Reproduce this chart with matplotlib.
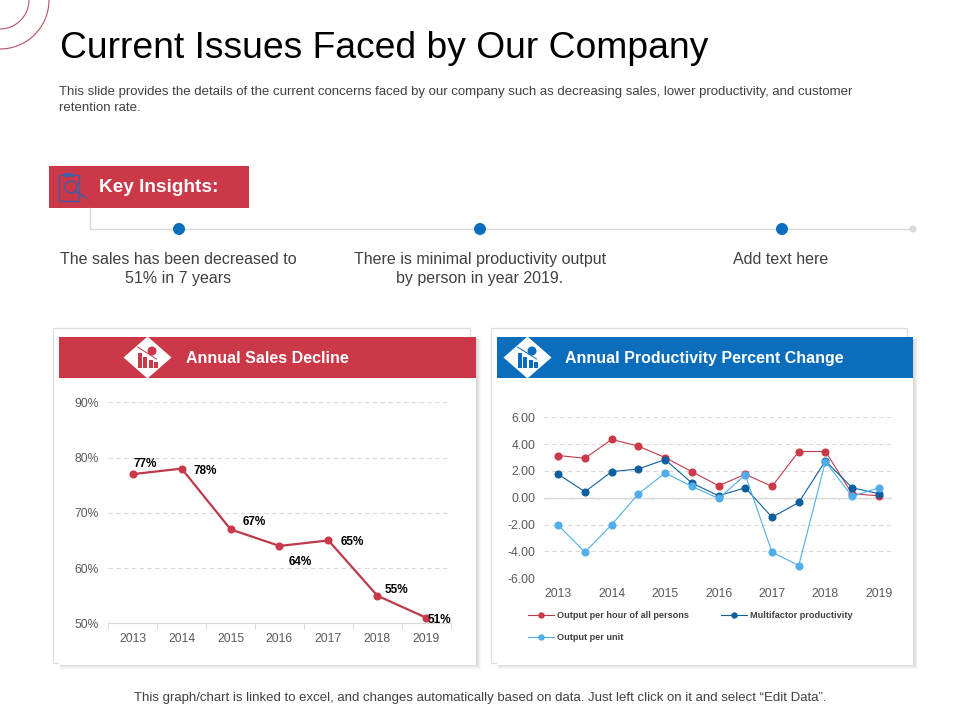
import matplotlib
matplotlib.use("Agg")
from matplotlib import pyplot as plt
from matplotlib.patches import Rectangle, Polygon, Circle, Arc

plt.rcParams["font.family"] = ["Liberation Sans", "DejaVu Sans"]

W, H = 960, 720
RED = "#CB3848"
BLUE = "#0A6EBD"
LINE_RED = "#BE3A4A"
LINE_DARK = "#0F5F9E"
LINE_LIGHT = "#4FADEA"
GREY_TICK = "#595959"
GRID = "#D9D9D9"

sales_years = ["2013", "2014", "2015", "2016", "2017", "2018", "2019"]
sales_values = [77, 78, 67, 64, 65, 55, 51]
sales_ticks = [50, 60, 70, 80, 90]
# label offsets from the point, in pixels
sales_offsets = [(12, 10.5), (24, -2.5), (24, 7.5), (21, -16), (24, -1.5), (19, 6), (13, -2.5)]

prod_years = ["2013", "2014", "2015", "2016", "2017", "2018", "2019"]
prod_hour = [3.15, 2.95, 4.35, 3.85, 3.0, 1.95, 0.9, 1.75, 0.85, 3.45, 3.45, 0.3, 0.15]
prod_multi = [1.75, 0.45, 1.95, 2.15, 2.85, 1.1, 0.15, 0.75, -1.45, -0.35, 2.75, 0.75, 0.3]
prod_unit = [-2.05, -4.05, -2.0, 0.3, 1.85, 0.85, -0.05, 1.7, -4.05, -5.05, 2.7, 0.1, 0.75]
prod_ticks = [-6, -4, -2, 0, 2, 4, 6]

fig = plt.figure(figsize=(W / 100, H / 100), dpi=100, facecolor="white")

# overlay in pixel coordinates for the slide furniture
bg = fig.add_axes([0, 0, 1, 1])
bg.set_xlim(0, W)
bg.set_ylim(H, 0)
bg.axis("off")


def px_axes(left, top, right, bottom):
    return fig.add_axes([left / W, 1 - bottom / H, (right - left) / W, (bottom - top) / H])


def card(x0, x1, color, title, title_x, dia_x):
    bg.add_patch(Rectangle((x0 - 6, 328), x1 - x0, 335, fc="white", ec="#DDDDDD", lw=0.9))
    for i in range(5, 0, -1):
        bg.add_patch(Rectangle((x0 + 1, 339), x1 - x0 + i - 1, 325 + i, fc="#000000", ec="none", alpha=0.03))
    bg.add_patch(Rectangle((x0, 337), x1 - x0, 328, fc="white", ec="none"))
    bg.add_patch(Rectangle((x0, 337), x1 - x0, 41, fc=color, ec="none"))
    bg.add_patch(Polygon([(dia_x, 336.5), (dia_x + 24, 357.5), (dia_x, 378.5), (dia_x - 24, 357.5)], fc="white", ec="none"))
    for dx, h in [(-10, 15), (-4.5, 11), (1, 8), (6.5, 6)]:
        bg.add_patch(Rectangle((dia_x + dx, 368 - h), 4, h, fc=color, ec="none"))
    bg.plot([dia_x - 10, dia_x + 9], [347, 359], color=color, lw=0.7)
    bg.add_patch(Circle((dia_x + 4.5, 351), 4.5, fc=color, ec="none"))
    bg.text(title_x, 358.5, title, color="white", fontsize=11.5, fontweight="bold", va="center", ha="left")


# corner arcs
for r, lw in [(49, 0.8), (29, 0.8)]:
    bg.add_patch(Arc((0, 0), 2 * r, 2 * r, theta1=0, theta2=90, color="#B8505E", lw=lw))

bg.text(60, 48, "Current Issues Faced by Our Company", fontsize=26.8, color="black", va="center", ha="left")
bg.text(59, 92, "This slide provides the details of the current concerns faced by our company such as decreasing sales, lower productivity, and customer",
        fontsize=9.55, color="#404040", va="center", ha="left")
bg.text(59, 108, "retention rate.", fontsize=9.55, color="#404040", va="center", ha="left")

# key insights banner and timeline
bg.plot([90, 90, 913], [208, 229, 229], color=GRID, lw=1)
bg.add_patch(Rectangle((49, 166), 200, 42, fc=RED, ec="none"))
bg.add_patch(Rectangle((59, 175), 20, 26, fc="none", ec="#3F5FA8", lw=1))
bg.add_patch(Rectangle((64, 173), 9, 4, fc="#3F5FA8", ec="none"))
bg.add_patch(Circle((71, 187), 6, fc="none", ec="#3F5FA8", lw=1))
bg.plot([75, 86], [191, 198], color="#3F5FA8", lw=1.2)
bg.text(99, 187.5, "Key Insights:", color="white", fontsize=13.7, fontweight="bold", va="center", ha="left")
for x in [179, 480, 782]:
    bg.add_patch(Circle((x, 229), 6, fc=BLUE, ec="none", zorder=3))
bg.add_patch(Circle((913, 229), 3.5, fc=GRID, ec="none", zorder=3))

insights = [
    (178, ["The sales has been decreased to", "51% in 7 years"]),
    (480, ["There is minimal productivity output", "by person in year 2019."]),
    (781, ["Add text here"]),
]
for x, lines in insights:
    for i, line in enumerate(lines):
        bg.text(x, 259.5 + 19 * i, line, fontsize=11.5, color="#404040", ha="center", va="center")

card(59, 476, RED, "Annual Sales Decline", 186, 147.5)
card(497, 913, BLUE, "Annual Productivity Percent Change", 565, 527.5)

bg.text(480, 697.5, "This graph/chart is linked to excel, and changes automatically based on data. Just left click on it and select \u201cEdit Data\u201d.",
        fontsize=9.5, color="#404040", ha="center", va="center")

# sales chart
ax1 = px_axes(108.3, 402.3, 450.7, 623.3)
ax1.patch.set_alpha(0)
x1 = list(range(len(sales_years)))
ax1.plot(x1, sales_values, color=LINE_RED, lw=1.6, marker="o", ms=4.8, mfc=RED, mec=RED, clip_on=False, zorder=3)
ax1.set_xlim(-0.5, 6.5)
ax1.set_ylim(50, 90)
ax1.set_yticks(sales_ticks)
ax1.set_yticklabels([f"{v}%" for v in sales_ticks])
ax1.set_xticks(x1)
ax1.set_xticklabels(sales_years)
ax1.set_xticks([i - 0.5 for i in range(8)], minor=True)
ax1.tick_params(axis="x", which="major", length=0, labelsize=8.7, labelcolor=GREY_TICK, pad=7)
ax1.tick_params(axis="x", which="minor", length=4, color=GRID, width=0.8)
ax1.tick_params(axis="y", length=0, labelsize=8.7, labelcolor=GREY_TICK, pad=7)
ax1.yaxis.grid(True, color=GRID, lw=0.8, ls=(0, (4, 3)))
ax1.set_axisbelow(True)
for s in ["top", "left", "right"]:
    ax1.spines[s].set_visible(False)
ax1.spines["bottom"].set_color(GRID)
for x, v, off in zip(x1, sales_values, sales_offsets):
    ax1.annotate(f"{v}%", (x, v), xytext=off, textcoords="offset pixels", ha="center", va="center",
                 fontsize=8.5, fontweight="bold", color="black", annotation_clip=False, zorder=4)

# productivity chart
ax2 = px_axes(544.3, 417.3, 891.7, 578.3)
ax2.patch.set_alpha(0)
x2 = list(range(len(prod_hour)))
h_hour, = ax2.plot(x2, prod_hour, color=LINE_RED, lw=0.8, marker="o", ms=4.8, mfc=RED, mec=RED, label="Output per hour of all persons", clip_on=False)
h_multi, = ax2.plot(x2, prod_multi, color=LINE_DARK, lw=0.8, marker="o", ms=4.8, mfc=LINE_DARK, mec=LINE_DARK, label="Multifactor productivity", clip_on=False)
h_unit, = ax2.plot(x2, prod_unit, color=LINE_LIGHT, lw=0.8, marker="o", ms=4.8, mfc=LINE_LIGHT, mec=LINE_LIGHT, label="Output per unit", clip_on=False)
ax2.set_xlim(-0.523, 12.48)
ax2.set_ylim(-6, 6)
ax2.set_yticks(prod_ticks)
ax2.set_yticklabels([f"{v:.2f}" for v in prod_ticks])
ax2.set_xticks(x2[::2])
ax2.set_xticklabels(prod_years)
ax2.tick_params(axis="x", length=0, labelsize=8.7, labelcolor=GREY_TICK, pad=7)
ax2.tick_params(axis="y", length=0, labelsize=8.7, labelcolor=GREY_TICK, pad=6.5)
ax2.yaxis.grid(True, color=GRID, lw=0.8, ls=(0, (4, 3)))
ax2.set_axisbelow(True)
for s in ax2.spines.values():
    s.set_visible(False)
ax2.axhline(0, color=GRID, lw=1, zorder=1)
ax2.vlines([i - 0.5 for i in range(14)], -0.2, 0, color=GRID, lw=0.8, zorder=1)

leg = fig.legend(handles=[h_hour, h_unit, h_multi], labels=[h.get_label() for h in (h_hour, h_unit, h_multi)],
                 ncol=2, loc="upper left", bbox_to_anchor=(528 / W, 1 - 611 / H), frameon=False,
                 prop={"size": 6.6, "weight": "bold"}, handlelength=2.8, handletextpad=0.35,
                 columnspacing=3.55, labelspacing=1.47, borderpad=0, borderaxespad=0, markerscale=0.75)
for t in leg.get_texts():
    t.set_color("#404040")

fig.savefig("out.png", dpi=100)
